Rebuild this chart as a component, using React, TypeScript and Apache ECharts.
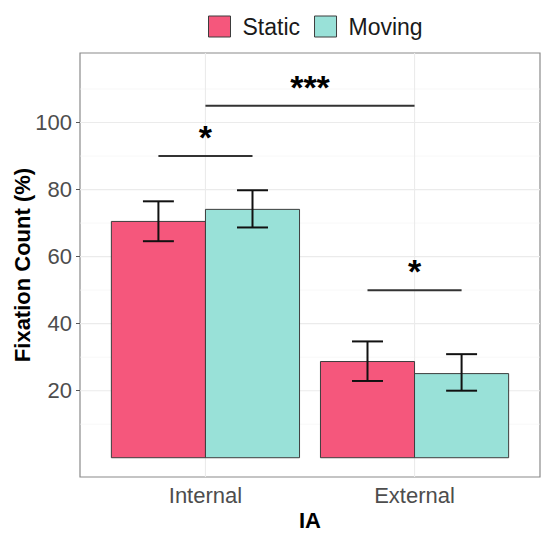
import React, { useEffect, useRef } from "react";
import * as echarts from "echarts";

const categories = ["Internal", "External"];
const seriesNames = ["Static", "Moving"];
const staticMean = [70.5, 28.7];
const staticLow = [64.6, 22.9];
const staticHigh = [76.5, 34.7];
const movingMean = [74.1, 25.1];
const movingLow = [68.7, 20.0];
const movingHigh = [79.8, 30.9];
const yTicks = [20, 40, 60, 80, 100];
const yMinorGrid = [10, 30, 50, 70, 90, 110];
// significance brackets: from (category, group) to (category, group); group -1 = category centre
const sigFromCat = [0, 0, 1];
const sigFromGroup = [0, -1, 0];
const sigToCat = [0, 1, 1];
const sigToGroup = [1, -1, 1];
const sigY = [90, 105, 50];
const sigLabel = ["*", "***", "*"];

const COLORS = ["#F5577C", "#99E1D8"];
const BORDER = "#3d3d3d";
const DODGE = 0.9;
const BARW = DODGE / 2;
const X_MIN = 0.4;
const X_MAX = 2.6;
const Y_MIN = -5.75;
const Y_MAX = 120.75;

function groupX(cat: number, group: number) {
  if (group < 0) return cat + 1;
  return cat + 1 - DODGE / 2 + BARW * (group + 0.5);
}

export default function App() {
  const ref = useRef<HTMLDivElement>(null);

  useEffect(() => {
    document.body.style.margin = "0";
    if (!ref.current) return;
    const chart = echarts.init(ref.current, undefined, { renderer: "svg" });

    const means = [staticMean, movingMean];
    const lows = [staticLow, movingLow];
    const highs = [staticHigh, movingHigh];

    const barSeries = seriesNames.map((name, g) => ({
      name,
      type: "custom",
      z: 3,
      itemStyle: { color: COLORS[g], borderColor: BORDER, borderWidth: 1 },
      data: means[g].map((v, i) => [i, v]),
      renderItem: (params: any, api: any) => {
        const cat = api.value(0);
        const v = api.value(1);
        const xc = groupX(cat, g);
        const p0 = api.coord([xc - BARW / 2, v]);
        const p1 = api.coord([xc + BARW / 2, 0]);
        return {
          type: "rect",
          shape: { x: p0[0], y: p0[1], width: p1[0] - p0[0], height: p1[1] - p0[1] },
          style: { fill: COLORS[g], stroke: BORDER, lineWidth: 1 },
        };
      },
    }));

    const errData: number[][] = [];
    seriesNames.forEach((_, g) => {
      categories.forEach((__, i) => {
        errData.push([i, g, lows[g][i], highs[g][i]]);
      });
    });

    const errSeries = {
      type: "custom",
      z: 4,
      silent: true,
      data: errData,
      renderItem: (params: any, api: any) => {
        const xc = groupX(api.value(0), api.value(1));
        const lo = api.coord([xc, api.value(2)]);
        const hi = api.coord([xc, api.value(3)]);
        const capL = api.coord([xc - 0.074, 0])[0];
        const capR = api.coord([xc + 0.074, 0])[0];
        const st = { stroke: "#111", lineWidth: 2 };
        return {
          type: "group",
          children: [
            { type: "line", shape: { x1: lo[0], y1: lo[1], x2: hi[0], y2: hi[1] }, style: st },
            { type: "line", shape: { x1: capL, y1: lo[1], x2: capR, y2: lo[1] }, style: st },
            { type: "line", shape: { x1: capL, y1: hi[1], x2: capR, y2: hi[1] }, style: st },
          ],
        };
      },
    };

    const sigSeries = {
      type: "custom",
      z: 5,
      silent: true,
      data: sigY.map((y, i) => [
        groupX(sigFromCat[i], sigFromGroup[i]),
        groupX(sigToCat[i], sigToGroup[i]),
        y,
        i,
      ]),
      renderItem: (params: any, api: any) => {
        const a = api.coord([api.value(0), api.value(2)]);
        const b = api.coord([api.value(1), api.value(2)]);
        const idx = api.value(3);
        return {
          type: "group",
          children: [
            {
              type: "line",
              shape: { x1: a[0], y1: a[1], x2: b[0], y2: b[1] },
              style: { stroke: "#333", lineWidth: 2 },
            },
            {
              type: "text",
              x: (a[0] + b[0]) / 2,
              y: a[1] - 19,
              style: {
                text: sigLabel[idx],
                fontSize: 34,
                fontWeight: "bold",
                fontFamily: "Liberation Sans, Arial, sans-serif",
                fill: "#000",
                align: "center",
                verticalAlign: "middle",
              },
            },
          ],
        };
      },
    };

    const gridData: number[][] = [];
    yMinorGrid.forEach((v) => gridData.push([0, v, 0]));
    yTicks.forEach((v) => gridData.push([0, v, 1]));
    categories.forEach((_, i) => gridData.push([1, i + 1, 1]));

    const gridSeries = {
      type: "custom",
      z: 1,
      silent: true,
      data: gridData,
      renderItem: (params: any, api: any) => {
        const vertical = api.value(0) === 1;
        const v = api.value(1);
        const major = api.value(2) === 1;
        const style = { stroke: major ? "#EBEBEB" : "#F4F4F4", lineWidth: major ? 1.1 : 0.6 };
        if (vertical) {
          const a = api.coord([v, Y_MIN]);
          const b = api.coord([v, Y_MAX]);
          return { type: "line", shape: { x1: a[0], y1: a[1], x2: b[0], y2: b[1] }, style };
        }
        const a = api.coord([X_MIN, v]);
        const b = api.coord([X_MAX, v]);
        return { type: "line", shape: { x1: a[0], y1: a[1], x2: b[0], y2: b[1] }, style };
      },
    };

    const font = "Liberation Sans, Arial, sans-serif";

    chart.setOption({
      animation: false,
      backgroundColor: "#fff",
      textStyle: { fontFamily: font },
      legend: {
        left: 203,
        top: 10,
        itemWidth: 22,
        itemHeight: 21,
        itemGap: 14,
        icon: "rect",
        selectedMode: false,
        textStyle: { fontSize: 23, color: "#1a1a1a", fontFamily: font, padding: [0, 0, 0, 7] },
        data: seriesNames.map((n, g) => ({
          name: n,
          itemStyle: { color: COLORS[g], borderColor: BORDER, borderWidth: 1 },
        })),
      },
      grid: {
        left: 80,
        right: 10,
        top: 53,
        bottom: 63,
        show: true,
        containLabel: false,
        outerBoundsMode: "none",
        borderColor: "#8a8a8a",
        borderWidth: 1.2,
        backgroundColor: "#fff",
      },
      xAxis: {
        type: "value",
        min: X_MIN,
        max: X_MAX,
        name: "IA",
        nameLocation: "middle",
        nameGap: 32,
        nameMoveOverlap: false,
        nameTextStyle: { fontSize: 22, fontWeight: "bold", color: "#000", fontFamily: font },
        axisLine: { show: false },
        splitLine: { show: false },
        axisTick: {
          show: true,
          length: 4,
          customValues: categories.map((_, i) => i + 1),
          lineStyle: { color: "#555", width: 1 },
        },
        axisLabel: {
          customValues: categories.map((_, i) => i + 1),
          formatter: (v: number) => categories[Math.round(v) - 1] ?? "",
          fontSize: 22,
          color: "#4D4D4D",
          margin: 7,
          fontFamily: font,
        },
      },
      yAxis: {
        type: "value",
        min: Y_MIN,
        max: Y_MAX,
        name: "Fixation Count (%)",
        nameLocation: "middle",
        nameGap: 47,
        nameMoveOverlap: false,
        nameTextStyle: { fontSize: 22, fontWeight: "bold", color: "#000", fontFamily: font },
        axisLine: { show: false },
        splitLine: { show: false },
        axisTick: {
          show: true,
          length: 4,
          customValues: yTicks,
          lineStyle: { color: "#555", width: 1 },
        },
        axisLabel: {
          customValues: yTicks,
          fontSize: 22,
          color: "#4D4D4D",
          margin: 8,
          fontFamily: font,
        },
      },
      series: [gridSeries, ...barSeries, errSeries, sigSeries],
    });

    return () => chart.dispose();
  }, []);

  return <div ref={ref} style={{ width: 550, height: 540 }} />;
}
